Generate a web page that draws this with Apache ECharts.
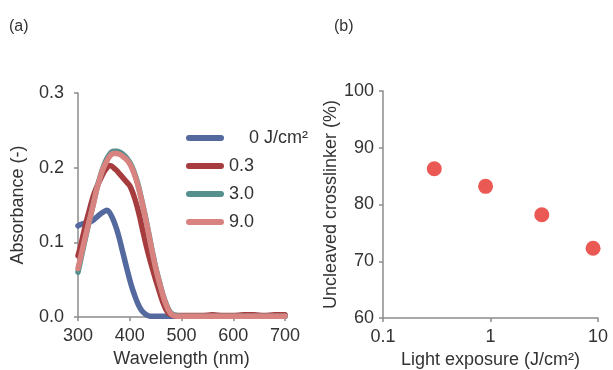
<!DOCTYPE html>
<html>
<head>
<meta charset="utf-8">
<script src="https://cdn.jsdelivr.net/npm/echarts@6/dist/echarts.min.js"></script>
<style>
html,body{margin:0;padding:0;background:#fff;}
#main{width:613px;height:370px;}
</style>
</head>
<body>
<div id="main"></div>
<script>
// ---- Panel (a): absorbance spectra ----
const wavelengths = [300,305,310,315,320,325,330,335,340,345,350,355,360,365,370,375,380,385,390,395,400,405,410,415,420,425,430,435,440,445,450,455,460,465,470,475,480,485,490,500,520,540,560,580,600,620,640,660,680,700];
const abs0 = [0.122,0.124,0.125,0.126,0.127,0.128,0.130,0.133,0.136,0.139,0.141,0.143,0.141,0.135,0.127,0.117,0.105,0.091,0.077,0.063,0.050,0.038,0.028,0.019,0.012,0.007,0.004,0.002,0.001,0.001,0.001,0.001,0.001,0.001,0.001,0.001,0.001,0.001,0.001,0.001,0.001,0.001,0.001,0.001,0.001,0.001,0.001,0.001,0.001,0.001];
const abs03 = [0.082,0.095,0.110,0.125,0.138,0.151,0.163,0.172,0.180,0.187,0.194,0.199,0.203,0.202,0.199,0.196,0.192,0.188,0.184,0.180,0.176,0.168,0.158,0.146,0.132,0.116,0.101,0.087,0.074,0.062,0.050,0.039,0.028,0.018,0.010,0.005,0.003,0.002,0.002,0.002,0.002,0.002,0.003,0.002,0.002,0.003,0.003,0.002,0.003,0.003];
const abs30 = [0.060,0.076,0.092,0.108,0.123,0.138,0.153,0.168,0.181,0.193,0.203,0.211,0.217,0.221,0.222,0.222,0.221,0.219,0.216,0.212,0.207,0.200,0.191,0.180,0.166,0.151,0.135,0.118,0.100,0.083,0.067,0.053,0.040,0.028,0.018,0.010,0.005,0.003,0.002,0.001,0.001,0.001,0.001,0.001,0.001,0.001,0.001,0.001,0.001,0.001];
const abs90 = [0.065,0.080,0.095,0.110,0.124,0.138,0.152,0.168,0.180,0.192,0.201,0.208,0.214,0.218,0.219,0.219,0.218,0.216,0.213,0.210,0.205,0.198,0.189,0.178,0.165,0.150,0.134,0.117,0.099,0.082,0.066,0.052,0.039,0.027,0.017,0.009,0.004,0.002,0.001,0.001,0.001,0.001,0.001,0.001,0.001,0.001,0.001,0.001,0.001,0.001];
const seriesNames = ['0 J/cm²','0.3','3.0','9.0'];
const xTicksA = [300,400,500,600,700];
const yTicksA = [0.0,0.1,0.2,0.3];

// ---- Panel (b): uncleaved crosslinker ----
const exposure = [0.3,0.9,3,9];
const uncleaved = [86.3,83.2,78.2,72.3];
const xTicksB = [0.1,1,10];
const yTicksB = [60,70,80,90,100];

const FONT = "'Liberation Sans', Arial, sans-serif";
const TXT = '#333333';
const AXC = '#8c8c8c';
const FS = 18;
const colors = ['#54699e','#a63c3e','#55908f','#d8837f'];

function pairs(xs, ys){ return xs.map((x,i)=>[x, ys[i]]); }
const absData = [abs0, abs03, abs30, abs90];

const axisCommon = {
  axisLine:{show:true, lineStyle:{color:AXC, width:1.5}},
  axisTick:{show:true, length:4, lineStyle:{color:AXC, width:1.5}},
  splitLine:{show:false},
  nameTextStyle:{color:TXT, fontFamily:FONT, fontSize:FS},
};

const option = {
  animation:false,
  backgroundColor:'#ffffff',
  textStyle:{fontFamily:FONT},
  graphic:[
    {type:'text', left:9, top:19, style:{text:'(a)', font:'16px '+FONT, fill:TXT}},
    {type:'text', left:334, top:19, style:{text:'(b)', font:'16px '+FONT, fill:TXT}}
  ],
  legend:{
    data:seriesNames,
    orient:'vertical',
    left:181, top:124,
    itemWidth:38, itemHeight:6, itemGap:10,
    icon:'path://M3,0 H35 A3,3 0 0 1 35,6 H3 A3,3 0 0 1 3,0 Z',
    formatter: n => n === seriesNames[0] ? '    ' + n : n,
    textStyle:{color:TXT, fontFamily:FONT, fontSize:FS},
  },
  grid:[
    {left:78, top:93, width:207, height:224, containLabel:false, outerBoundsMode:'none'},
    {left:383, top:91, width:215, height:227, containLabel:false, outerBoundsMode:'none'}
  ],
  xAxis:[
    Object.assign({}, axisCommon, {
      gridIndex:0, type:'value', min:xTicksA[0], max:xTicksA[xTicksA.length-1], interval:100,
      name:'Wavelength (nm)', nameLocation:'middle', nameGap:32,
      axisLabel:{color:TXT, fontFamily:FONT, fontSize:FS, margin:10}
    }),
    Object.assign({}, axisCommon, {
      gridIndex:1, type:'log', logBase:10, min:xTicksB[0], max:xTicksB[xTicksB.length-1],
      name:'Light exposure (J/cm²)', nameLocation:'middle', nameGap:33,
      minorTick:{show:false},
      axisLabel:{color:TXT, fontFamily:FONT, fontSize:FS, margin:10, formatter: v => String(+v.toPrecision(3))}
    })
  ],
  yAxis:[
    Object.assign({}, axisCommon, {
      gridIndex:0, type:'value', min:yTicksA[0], max:yTicksA[yTicksA.length-1], interval:0.1,
      name:'Absorbance (-)', nameLocation:'middle', nameGap:51, nameRotate:90,
      axisLabel:{color:TXT, fontFamily:FONT, fontSize:FS, margin:14, formatter: v => v.toFixed(1)}
    }),
    Object.assign({}, axisCommon, {
      gridIndex:1, type:'value', min:yTicksB[0], max:yTicksB[yTicksB.length-1], interval:10,
      name:'Uncleaved crosslinker (%)', nameLocation:'middle', nameGap:38, nameRotate:90,
      axisLabel:{color:TXT, fontFamily:FONT, fontSize:FS, margin:9}
    })
  ],
  series: seriesNames.map((n,i)=>({
    name:n, type:'line', xAxisIndex:0, yAxisIndex:0,
    data: pairs(wavelengths, absData[i]),
    showSymbol:false, symbol:'none', smooth:0.2,
    lineStyle:{color:colors[i], width:5.5, cap:'round', join:'round'},
    itemStyle:{color:colors[i]},
    z: 2+i
  })).concat([{
    name:'uncleaved', type:'scatter', xAxisIndex:1, yAxisIndex:1,
    data: pairs(exposure, uncleaved),
    symbol:'circle', symbolSize:15,
    itemStyle:{color:'#e6302a'}
  }])
};

const chart = echarts.init(document.getElementById('main'), null, {renderer:'canvas'});
chart.setOption(option);
</script>
</body>
</html>
